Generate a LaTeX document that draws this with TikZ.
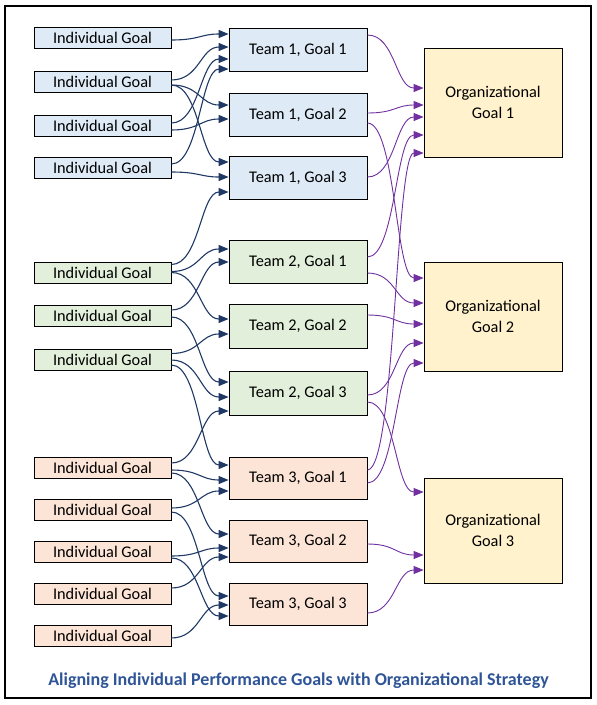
\documentclass[tikz,border=0pt]{standalone}
\usepackage{fontspec}
\setmainfont{Carlito}
\usetikzlibrary{arrows.meta}
\definecolor{fblue}{HTML}{DEEBF7}
\definecolor{fgreen}{HTML}{E2EFDA}
\definecolor{forange}{HTML}{FCE4D6}
\definecolor{fyellow}{HTML}{FFF2CC}
\definecolor{lnavy}{HTML}{1F3864}
\definecolor{lpurple}{HTML}{7030A0}
\definecolor{capblue}{HTML}{2F5597}
\newcommand\lnk[5]{\draw[#1] ([shift={(0,#3)}]#2.east) .. controls +(28,0) and +(-28,0) .. ([shift={(0,#5)}]#4.west);}
\begin{document}
\begin{tikzpicture}[x=1pt,y=-1pt,
  box/.style={draw=black,line width=0.8pt,inner sep=0pt,font=\fontsize{16.3}{19}\selectfont},
  indiv/.style={box,minimum width=137pt,minimum height=21pt},
  team/.style={box,minimum width=138pt,minimum height=43pt},
  org/.style={box,fill=fyellow,minimum width=138pt,align=center},
  bl/.style={draw=lnavy,line width=1.1pt,-{Triangle[length=10pt,width=8pt]}},
  pl/.style={draw=lpurple,line width=0.9pt,-{Triangle[length=10pt,width=8pt]}}]
\useasboundingbox (0,0) rectangle (597,705);
\draw[line width=2.5pt] (5,6) rectangle (591,698);
% individual goals
\node[indiv,fill=fblue] (a1) at (102.5,38) {Individual Goal};
\node[indiv,fill=fblue] (a2) at (102.5,81.5) {Individual Goal};
\node[indiv,fill=fblue] (a3) at (102.5,126) {Individual Goal};
\node[indiv,fill=fblue] (a4) at (102.5,168) {Individual Goal};
\node[indiv,fill=fgreen] (b1) at (102.5,272.5) {Individual Goal};
\node[indiv,fill=fgreen] (b2) at (102.5,316) {Individual Goal};
\node[indiv,fill=fgreen] (b3) at (102.5,359.5) {Individual Goal};
\node[indiv,fill=forange] (c1) at (102.5,467.5) {Individual Goal};
\node[indiv,fill=forange] (c2) at (102.5,509.5) {Individual Goal};
\node[indiv,fill=forange] (c3) at (102.5,551.5) {Individual Goal};
\node[indiv,fill=forange] (c4) at (102.5,593.5) {Individual Goal};
\node[indiv,fill=forange] (c5) at (102.5,635.5) {Individual Goal};
% team goals
\node[team,fill=fblue] (t11) at (298,49.5) {Team 1, Goal 1};
\node[team,fill=fblue] (t12) at (298,114.5) {Team 1, Goal 2};
\node[team,fill=fblue] (t13) at (298,178) {Team 1, Goal 3};
\node[team,fill=fgreen] (t21) at (298,262) {Team 2, Goal 1};
\node[team,fill=fgreen,minimum height=44pt] (t22) at (298,326) {Team 2, Goal 2};
\node[team,fill=fgreen,minimum height=44pt] (t23) at (298,393) {Team 2, Goal 3};
\node[team,fill=forange,minimum height=42pt] (t31) at (298,478) {Team 3, Goal 1};
\node[team,fill=forange,minimum height=42pt] (t32) at (298,541) {Team 3, Goal 2};
\node[team,fill=forange,minimum height=42pt] (t33) at (298,604) {Team 3, Goal 3};
% organizational goals
\node[org,minimum height=109pt] (o1) at (493,102.5) {Organizational\\[2pt]Goal 1};
\node[org,minimum height=109pt] (o2) at (493,316.5) {Organizational\\[2pt]Goal 2};
\node[org,minimum height=105pt] (o3) at (493,530.5) {Organizational\\[2pt]Goal 3};
% individual -> team
\lnk{bl}{a1}{2}{t11}{-15.5}
\lnk{bl}{a2}{-1.5}{t11}{-2.5}
\lnk{bl}{a2}{3.5}{t12}{-9.5}
\lnk{bl}{a2}{3.5}{t13}{-16}
\lnk{bl}{a3}{-3}{t11}{9.5}
\lnk{bl}{a3}{4}{t12}{4.5}
\lnk{bl}{a4}{-4}{t11}{19.5}
\lnk{bl}{a4}{4}{t13}{-1}
\lnk{bl}{b1}{-8}{t13}{14}
\lnk{bl}{b1}{-1}{t21}{-13}
\lnk{bl}{b1}{0}{t22}{-7}
\lnk{bl}{b2}{-6}{t21}{0}
\lnk{bl}{b2}{1}{t23}{-11}
\lnk{bl}{b3}{-6}{t22}{8}
\lnk{bl}{b3}{0.5}{t23}{4}
\lnk{bl}{b3}{5.5}{t31}{-13}
\lnk{bl}{c1}{-4.5}{t23}{18}
\lnk{bl}{c1}{2.5}{t31}{2}
\lnk{bl}{c1}{5.5}{t32}{-7}
\lnk{bl}{c2}{-1.5}{t31}{13}
\lnk{bl}{c2}{2.5}{t33}{-8}
\lnk{bl}{c3}{4.5}{t32}{7}
\lnk{bl}{c3}{6.5}{t33}{12}
\lnk{bl}{c4}{-5.5}{t32}{16}
\lnk{bl}{c5}{2.5}{t33}{1}
% team -> organizational
\lnk{pl}{t11}{-14.5}{o1}{-14.5}
\lnk{pl}{t12}{-1.5}{o1}{2.5}
\lnk{pl}{t12}{8.5}{o2}{-38.5}
\lnk{pl}{t13}{-1}{o1}{14.5}
\lnk{pl}{t21}{-5}{o1}{32.5}
\lnk{pl}{t21}{11}{o2}{-13.5}
\lnk{pl}{t22}{-11}{o2}{7.5}
\lnk{pl}{t23}{2}{o2}{26.5}
\lnk{pl}{t23}{9}{o3}{-38.5}
\lnk{pl}{t31}{-8}{o1}{50.5}
\lnk{pl}{t31}{5}{o2}{46.5}
\lnk{pl}{t32}{3}{o3}{24.5}
\lnk{pl}{t33}{9}{o3}{39.5}
% caption
\node[font=\fontsize{18}{21}\selectfont\bfseries,text=capblue] (cap) at (298.5,681) {Aligning Individual Performance Goals with Organizational Strategy};
\end{tikzpicture}
\end{document}
